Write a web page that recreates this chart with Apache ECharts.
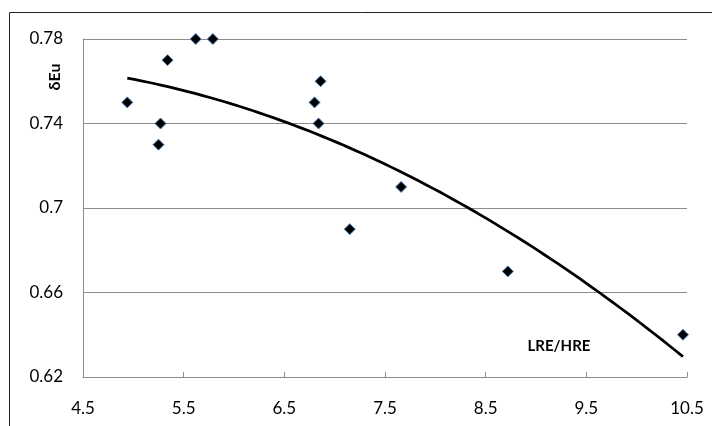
<!DOCTYPE html>
<html>
<head>
<meta charset="utf-8">
<script src="https://cdn.jsdelivr.net/npm/echarts@6/dist/echarts.min.js"></script>
<style>
html,body{margin:0;padding:0;background:#fff;}
#chart{width:712px;height:426px;}
</style>
</head>
<body>
<div id="chart"></div>
<script>
// Data
const lreHre = [4.94, 5.25, 5.27, 5.34, 5.62, 5.79, 6.80, 6.86, 6.84, 7.15, 7.66, 8.72, 10.46];
const dEu    = [0.75, 0.73, 0.74, 0.77, 0.78, 0.78, 0.75, 0.76, 0.74, 0.69, 0.71, 0.67, 0.64];
const xTicks = [4.5, 5.5, 6.5, 7.5, 8.5, 9.5, 10.5];
const yTicks = [0.62, 0.66, 0.7, 0.74, 0.78];

// Polynomial (order 2) least-squares trendline, as in the original chart
function quadFit(xs, ys) {
  const n = xs.length;
  let s = [0,0,0,0,0], t = [0,0,0];
  for (let i = 0; i < n; i++) {
    let p = 1;
    for (let k = 0; k < 5; k++) { s[k] += p; if (k < 3) t[k] += p * ys[i]; p *= xs[i]; }
  }
  const M = [[s[0],s[1],s[2],t[0]],[s[1],s[2],s[3],t[1]],[s[2],s[3],s[4],t[2]]];
  for (let c = 0; c < 3; c++) {
    for (let r = c + 1; r < 3; r++) {
      const f = M[r][c] / M[c][c];
      for (let k = c; k < 4; k++) M[r][k] -= f * M[c][k];
    }
  }
  const b = [0,0,0];
  for (let r = 2; r >= 0; r--) {
    let v = M[r][3];
    for (let k = r + 1; k < 3; k++) v -= M[r][k] * b[k];
    b[r] = v / M[r][r];
  }
  return b;
}
const coef = quadFit(lreHre, dEu);
const xMin = Math.min(...lreHre), xMax = Math.max(...lreHre);
const trend = [];
const steps = 80;
for (let i = 0; i <= steps; i++) {
  const x = xMin + (xMax - xMin) * i / steps;
  trend.push([x, coef[0] + coef[1] * x + coef[2] * x * x]);
}

const font = 'Lato, "Liberation Sans", sans-serif';
const chart = echarts.init(document.getElementById('chart'), null, {renderer: 'canvas'});
chart.setOption({
  animation: false,
  backgroundColor: '#fff',
  grid: {left: 83, right: 25, top: 39, bottom: 49, containLabel: false},
  xAxis: {
    type: 'value',
    min: xTicks[0], max: xTicks[xTicks.length - 1], interval: 1,
    axisLine: {show: true, onZero: false, lineStyle: {color: '#8c8c8c', width: 1}},
    axisTick: {show: true, inside: true, length: 5, lineStyle: {color: '#8c8c8c'}},
    axisLabel: {color: '#000', fontFamily: font, fontSize: 17, margin: 23},
    splitLine: {show: false}
  },
  yAxis: {
    type: 'value',
    min: yTicks[0], max: yTicks[yTicks.length - 1], interval: 0.04,
    axisLine: {show: true, onZero: false, lineStyle: {color: '#8c8c8c', width: 1}},
    axisTick: {show: false},
    axisLabel: {color: '#000', fontFamily: font, fontSize: 17, margin: 20},
    splitLine: {show: true, lineStyle: {color: '#8c8c8c', width: 1}}
  },
  graphic: [
    {type: 'rect', shape: {x: 9.5, y: 12.5, width: 800, height: 600},
     style: {fill: 'none', stroke: '#222', lineWidth: 1}, silent: true, z: 100},
    {type: 'text', x: 55, y: 77, rotation: Math.PI / 2,
     style: {text: 'δEu', font: 'bold 16px ' + font, fill: '#000', align: 'center', verticalAlign: 'middle'}},
    {type: 'text', x: 559, y: 346,
     style: {text: 'LRE/HRE', font: 'bold 15px ' + font, fill: '#000', align: 'center', verticalAlign: 'middle'}}
  ],
  series: [
    {
      type: 'line',
      data: trend,
      showSymbol: false,
      smooth: false,
      lineStyle: {color: '#000', width: 2.75},
      z: 2
    },
    {
      type: 'scatter',
      data: lreHre.map((x, i) => [x, dEu[i]]),
      symbol: 'diamond',
      symbolSize: 11,
      itemStyle: {color: '#000', borderColor: '#4a7ebb', borderWidth: 1, opacity: 1},
      z: 3
    }
  ]
});
</script>
</body>
</html>
